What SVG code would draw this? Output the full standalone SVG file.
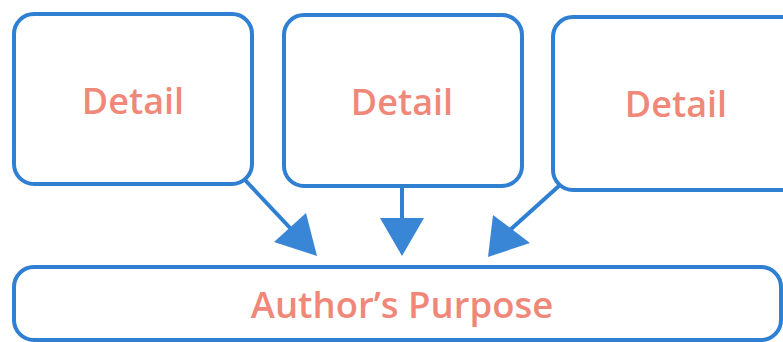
<svg xmlns="http://www.w3.org/2000/svg" width="783" height="342" viewBox="0 0 783 342">
<style>
.box{fill:#fff;stroke:#2f7fd2;stroke-width:4}
.lbl{font-family:"Open Sans","Liberation Sans",sans-serif;font-weight:600;fill:#f0887a;text-anchor:middle}
.line{stroke:#2f7fd2;stroke-width:4;fill:none}
.head{fill:#3a86d6}
</style>
<rect width="783" height="342" fill="#fff"/>
<g id="detail1"><rect class="box" x="14" y="14" width="238" height="170" rx="20"/><text class="lbl" x="133" y="114" font-size="36">Detail</text></g>
<g id="detail2"><rect class="box" x="284" y="15" width="238" height="171" rx="20"/><text class="lbl" x="402" y="115" font-size="36">Detail</text></g>
<g id="detail3"><rect class="box" x="553" y="17" width="250" height="173" rx="20"/><text class="lbl" x="676" y="117" font-size="36">Detail</text></g>
<g id="purpose"><rect class="box" x="14" y="267" width="767" height="73" rx="20"/><text class="lbl" x="402" y="318" font-size="36.5">Author’s Purpose</text></g>
<g id="connectors">
<line class="line" x1="245" y1="180" x2="292" y2="230"/>
<polygon class="head" points="317,256 274,242 306,213"/>
<line class="line" x1="402" y1="186" x2="402" y2="220"/>
<polygon class="head" points="402,256 380,218 424,218"/>
<line class="line" x1="560" y1="185" x2="510" y2="230"/>
<polygon class="head" points="488,257 493,215 530,243"/>
</g>
</svg>
